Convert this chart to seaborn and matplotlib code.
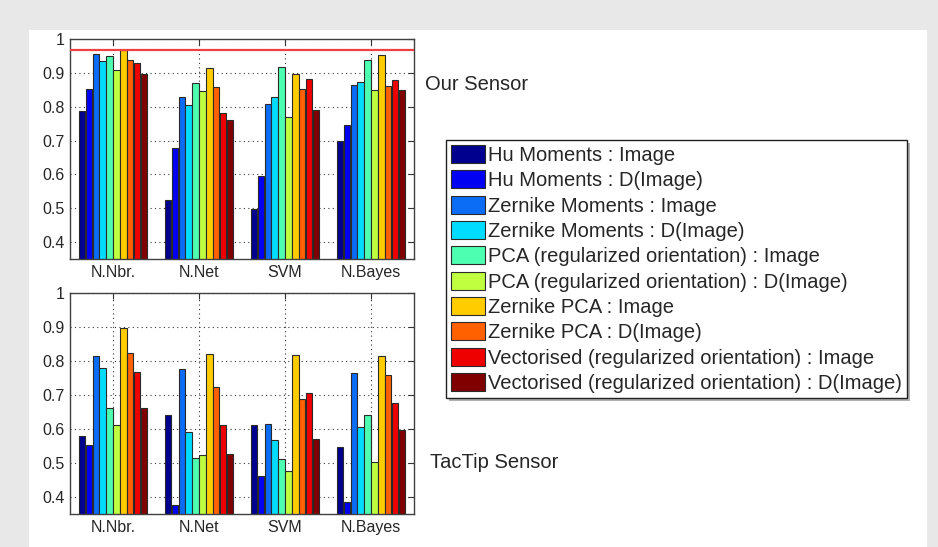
import numpy as np
import pandas as pd
import matplotlib
matplotlib.use("Agg")
import matplotlib.pyplot as plt
import seaborn as sns
from matplotlib.patches import Rectangle, Patch
from matplotlib.ticker import FuncFormatter

# ---------------- data ----------------
classifiers = ["N.Nbr.", "N.Net", "SVM", "N.Bayes"]
features = [
    "Hu Moments : Image",
    "Hu Moments : D(Image)",
    "Zernike Moments : Image",
    "Zernike Moments : D(Image)",
    "PCA (regularized orientation) : Image",
    "PCA (regularized orientation) : D(Image)",
    "Zernike PCA : Image",
    "Zernike PCA : D(Image)",
    "Vectorised (regularized orientation) : Image",
    "Vectorised (regularized orientation) : D(Image)",
]
colors = ["#00008f", "#0000f2", "#0b6cf5", "#00dcff", "#4dffb0",
          "#bfff40", "#ffcc00", "#ff6000", "#ee0000", "#800000"]

# Our Sensor (one list per classifier, in feature order)
our_nnbr = [0.788, 0.852, 0.957, 0.934, 0.950, 0.907, 0.968, 0.937, 0.929, 0.897]
our_nnet = [0.523, 0.677, 0.830, 0.804, 0.870, 0.847, 0.915, 0.859, 0.782, 0.762]
our_svm = [0.498, 0.595, 0.807, 0.828, 0.918, 0.771, 0.898, 0.852, 0.882, 0.789]
our_nbayes = [0.700, 0.746, 0.864, 0.872, 0.938, 0.850, 0.953, 0.861, 0.879, 0.850]

# TacTip Sensor
tac_nnbr = [0.578, 0.553, 0.814, 0.778, 0.663, 0.612, 0.897, 0.825, 0.768, 0.663]
tac_nnet = [0.642, 0.376, 0.776, 0.591, 0.515, 0.525, 0.821, 0.725, 0.612, 0.527]
tac_svm = [0.612, 0.462, 0.615, 0.568, 0.513, 0.477, 0.818, 0.689, 0.707, 0.570]
tac_nbayes = [0.548, 0.386, 0.766, 0.606, 0.642, 0.503, 0.814, 0.760, 0.677, 0.596]

our_ref_line = 0.967
yticks = [0.4, 0.5, 0.6, 0.7, 0.8, 0.9, 1.0]


def long_table(rows):
    recs = []
    for clf, vals in zip(classifiers, rows):
        for feat, v in zip(features, vals):
            recs.append({"classifier": clf, "feature": feat, "accuracy": v})
    return pd.DataFrame(recs)


our_df = long_table([our_nnbr, our_nnet, our_svm, our_nbayes])
tac_df = long_table([tac_nnbr, tac_nnet, tac_svm, tac_nbayes])

# ---------------- figure ----------------
sns.set_style("white")
plt.rcParams["font.family"] = ["Liberation Sans", "DejaVu Sans"]

W, H = 938, 547
fig = plt.figure(figsize=(W / 100, H / 100), dpi=100, facecolor="#e8e8e8")
# white panel
fig.patches.append(Rectangle((29 / W, 0), (927 - 29) / W, 1 - 30 / H,
                             transform=fig.transFigure, facecolor="white",
                             edgecolor="none", zorder=-10))


def px_axes(left, top, right, bottom):
    return fig.add_axes([left / W, 1 - bottom / H, (right - left) / W, (bottom - top) / H])


ax_top = px_axes(70, 39, 414, 259)
ax_bot = px_axes(70, 293, 414, 514)

for ax, df in [(ax_top, our_df), (ax_bot, tac_df)]:
    sns.barplot(data=df, x="classifier", y="accuracy", hue="feature",
                order=classifiers, hue_order=features, palette=colors,
                width=0.8, gap=0.05, edgecolor="#2a2a2a", linewidth=0.8,
                saturation=1, legend=False, ax=ax)
    ax.set_ylim(0.35, 1.0)
    ax.set_xlim(-0.5, 3.5)
    ax.set_yticks(yticks)
    ax.yaxis.set_major_formatter(FuncFormatter(lambda v, p: "1" if abs(v - 1) < 1e-9 else f"{v:.1f}"))
    ax.set_xlabel("")
    ax.set_ylabel("")
    ax.set_axisbelow(True)
    ax.grid(True, linestyle=(0, (1, 3)), color="#333333", linewidth=0.8)
    ax.tick_params(direction="in", top=True, right=True, length=4, width=0.8,
                   color="#333333", labelsize=11.5, pad=4)
    for s in ax.spines.values():
        s.set_color("#404040")
        s.set_linewidth(1.0)
        s.set_visible(True)

ax_top.axhline(our_ref_line, color="#f04040", linewidth=1.6, zorder=5)

fig.text(425 / W, 1 - 84 / H, "Our Sensor", fontsize=14.5, ha="left", va="center")
fig.text(430 / W, 1 - 462 / H, "TacTip Sensor", fontsize=14.5, ha="left", va="center")

handles = [Patch(facecolor=c, edgecolor="#2a2a2a", linewidth=0.8) for c in colors]
leg = fig.legend(handles, features, loc="upper left",
                 bbox_to_anchor=(446 / W, 1 - 140 / H), bbox_transform=fig.transFigure,
                 frameon=True, fancybox=False, edgecolor="#202020", framealpha=1,
                 fontsize=14.5, handlelength=1.7, handleheight=1.0, handletextpad=0.15,
                 labelspacing=0.27, borderpad=0.25, borderaxespad=0)
leg.get_frame().set_linewidth(1.0)

fig.canvas.draw()
bb = leg.get_window_extent()
fig.patches.append(Rectangle(((bb.x0 + 3) / W, (bb.y0 - 3) / H), bb.width / W, bb.height / H,
                             transform=fig.transFigure, facecolor="#b0b0b0",
                             edgecolor="none", zorder=-5))

fig.savefig("out.png", dpi=100, facecolor=fig.get_facecolor())
